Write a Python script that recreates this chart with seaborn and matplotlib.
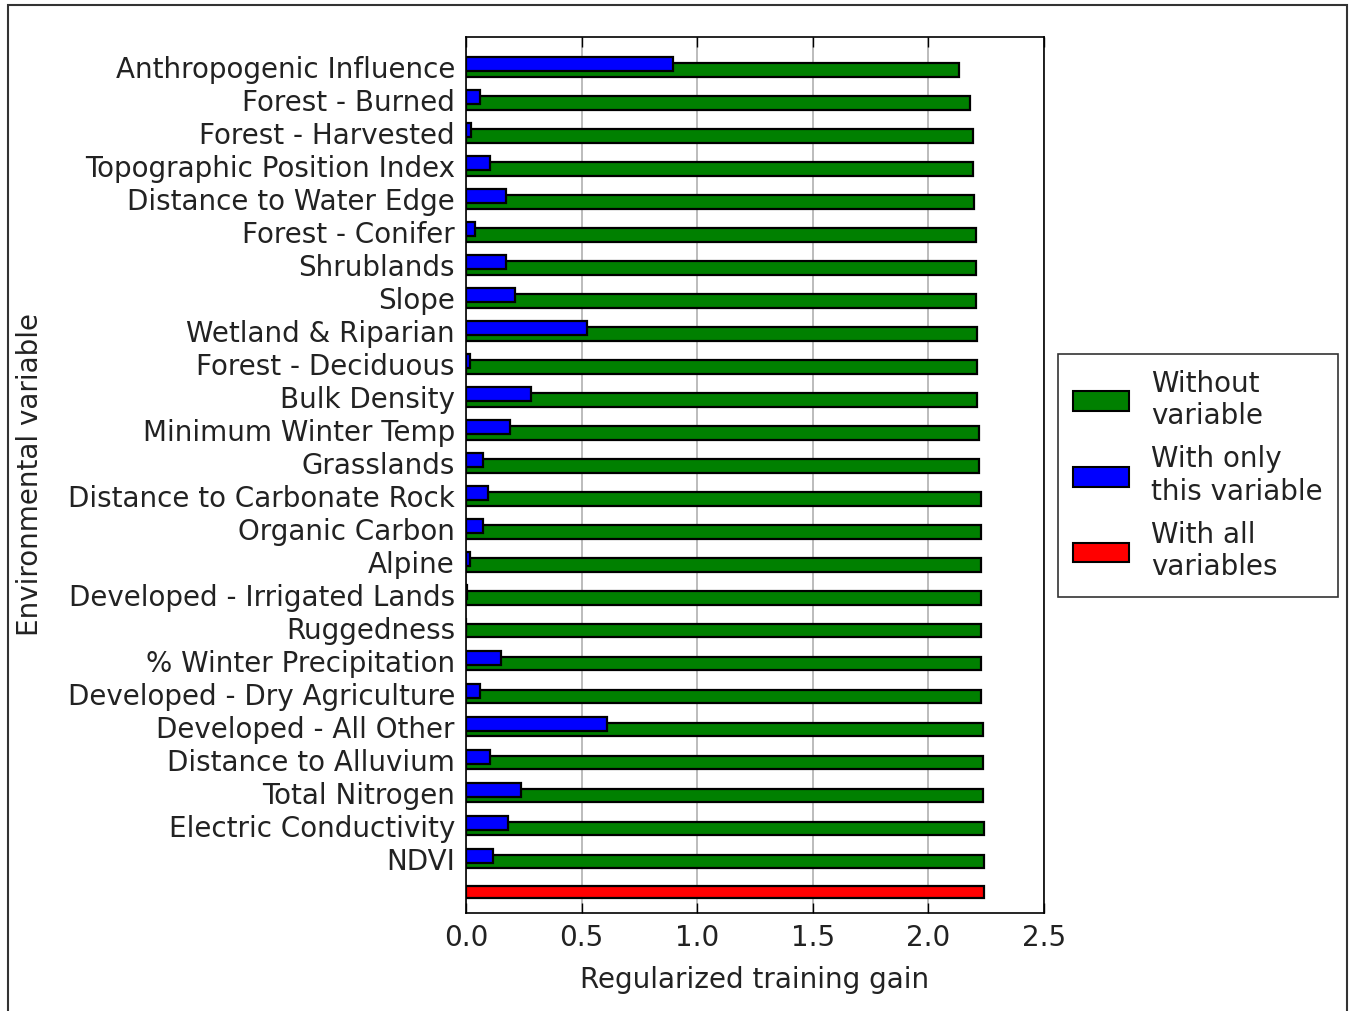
import numpy as np
import pandas as pd

import matplotlib
matplotlib.use('Agg')
import matplotlib.pyplot as plt
from matplotlib.patches import Patch, Rectangle
import seaborn as sns

sns.set_style('white')
plt.rcParams['font.family'] = ['DejaVu Sans']

# Variables, top to bottom as in the figure
variables = ['Anthropogenic Influence', 'Forest - Burned', 'Forest - Harvested',
             'Topographic Position Index', 'Distance to Water Edge', 'Forest - Conifer',
             'Shrublands', 'Slope', 'Wetland & Riparian', 'Forest - Deciduous',
             'Bulk Density', 'Minimum Winter Temp', 'Grasslands',
             'Distance to Carbonate Rock', 'Organic Carbon', 'Alpine',
             'Developed - Irrigated Lands', 'Ruggedness', '% Winter Precipitation',
             'Developed - Dry Agriculture', 'Developed - All Other',
             'Distance to Alluvium', 'Total Nitrogen', 'Electric Conductivity', 'NDVI']

# Gain without the variable (jackknife)
without_var = [2.131, 2.182, 2.191, 2.191, 2.196, 2.205, 2.205, 2.205, 2.212, 2.212,
               2.212, 2.219, 2.219, 2.226, 2.226, 2.226, 2.226, 2.226, 2.226, 2.226,
               2.234, 2.234, 2.234, 2.241, 2.241]

# Gain with only this variable
only_var = [0.894, 0.059, 0.023, 0.103, 0.175, 0.038, 0.175, 0.211, 0.523, 0.016,
            0.283, 0.189, 0.074, 0.095, 0.074, 0.016, 0.006, 0.0, 0.153, 0.059,
            0.612, 0.103, 0.240, 0.182, 0.117]

# Gain with all variables
all_vars = 2.241

pos = np.arange(len(variables))
df_without = pd.DataFrame({'gain': without_var, 'pos': pos + 0.08})
df_only = pd.DataFrame({'gain': only_var, 'pos': pos - 0.08})
df_all = pd.DataFrame({'gain': [all_vars], 'pos': [float(len(variables))]})

fig = plt.figure(figsize=(13.54, 10.11), dpi=100)
ax = fig.add_axes([466 / 1354, 1 - 913 / 1011, (1044 - 466) / 1354, (913 - 37) / 1011])

green = '#008000'
blue = '#0000ff'
red = '#ff0000'
fs = 20
txt = '#222222'

sns.barplot(data=df_without, x='gain', y='pos', orient='h', native_scale=True,
            width=0.42, color=green, saturation=1, edgecolor='black', linewidth=1.6,
            errorbar=None, ax=ax)
sns.barplot(data=df_only, x='gain', y='pos', orient='h', native_scale=True,
            width=0.42, color=blue, saturation=1, edgecolor='black', linewidth=1.6,
            errorbar=None, ax=ax)
sns.barplot(data=df_all, x='gain', y='pos', orient='h', native_scale=True,
            width=0.38, color=red, saturation=1, edgecolor='black', linewidth=1.6,
            errorbar=None, ax=ax)

ax.set_xlim(0, 2.5)
ax.set_ylim(len(variables) + 0.64, -0.91)
ax.set_xticks([0.0, 0.5, 1.0, 1.5, 2.0, 2.5])
ax.set_xticklabels(['0.0', '0.5', '1.0', '1.5', '2.0', '2.5'])
ax.set_yticks(list(pos) + [len(variables)])
ax.set_yticklabels(variables + [''])

ax.xaxis.grid(True, color='#b0b0b0', linewidth=1.2)
ax.yaxis.grid(False)
ax.set_axisbelow(True)
for s in ax.spines.values():
    s.set_color('black')
    s.set_linewidth(1.2)

ax.tick_params(axis='x', direction='in', length=7, width=1, top=True, bottom=True,
               labelsize=fs, pad=8, colors='black')
ax.tick_params(axis='y', length=0, labelsize=fs, pad=8, colors='black')
for t in ax.get_xticklabels() + ax.get_yticklabels():
    t.set_color(txt)

ax.set_xlabel('Regularized training gain', fontsize=fs, color=txt, labelpad=10)
ax.set_ylabel('Environmental variable', fontsize=fs, color=txt)
ax.yaxis.set_label_coords((44 - 466) / 578, 0.5)

handles = [Patch(facecolor=green, edgecolor='black', linewidth=1.5),
           Patch(facecolor=blue, edgecolor='black', linewidth=1.5),
           Patch(facecolor=red, edgecolor='black', linewidth=1.5)]
labels = ['Without\nvariable', 'With only\nthis variable', 'With all\nvariables']
leg = ax.legend(handles, labels, loc='center left', bbox_to_anchor=(1058 / 1354, 1 - 475.5 / 1011),
                bbox_transform=fig.transFigure, fontsize=fs, frameon=True, fancybox=False,
                edgecolor='black', handlelength=2.0, handleheight=0.7, labelspacing=0.55,
                borderpad=0.55, handletextpad=0.8, borderaxespad=0)
leg.get_frame().set_linewidth(1.2)
for t in leg.get_texts():
    t.set_color(txt)

# thin frame around the picture
fig.add_artist(Rectangle((8 / 1354, -0.05), (1347 - 8) / 1354, 1.05 - 5 / 1011,
                         transform=fig.transFigure, fill=False, edgecolor='#333333',
                         linewidth=1.5))

fig.savefig('out.png', dpi=100)
